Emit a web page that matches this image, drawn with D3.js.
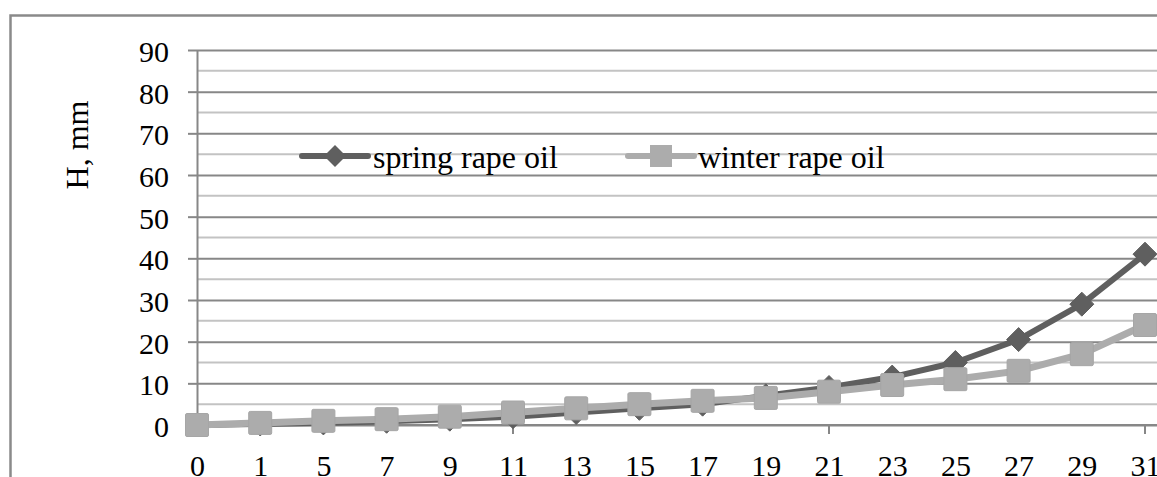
<!DOCTYPE html>
<html><head><meta charset="utf-8">
<script src="https://cdn.jsdelivr.net/npm/d3@7"></script>
<style>
html,body{margin:0;padding:0;background:#fff;}
svg{display:block;font-family:"Liberation Serif","Times New Roman",serif;}
</style></head>
<body>
<svg id="c" width="1157" height="477"></svg>
<script>
const categories = ["0","1","5","7","9","11","13","15","17","19","21","23","25","27","29","31"];
const springRapeOil = [0,0.25,0.5,0.9,1.4,2,3,4,5,7,9,11.5,15,20.5,29,41];
const winterRapeOil = [0,0.5,1,1.4,2,3,4,5,5.8,6.5,8,9.6,11,13,17,24];
const yTicks = [0,10,20,30,40,50,60,70,80,90];
const yMinor = [5,15,25,35,45,55,65,75,85];
const seriesNames = ["spring rape oil","winter rape oil"];

const W = 1157, H = 477;
const svg = d3.select("#c");
const x = d3.scalePoint().domain(categories).range([197, 1145]);
const y = d3.scaleLinear().domain([0, 90]).range([425, 50]);
const dark = "#5f5f5f", light = "#acacac", grid = "#878787", gridMinor = "#c3c3c3";
const FONT = "Liberation Serif, Times New Roman, serif";

// outer border
svg.append("rect").attr("x", 10.5).attr("y", 15.5).attr("width", W + 20).attr("height", H + 20)
  .attr("fill", "none").attr("stroke", "#8a8a8a").attr("stroke-width", 2.5);

// minor gridlines
svg.append("g").selectAll("line").data(yMinor).join("line")
  .attr("x1", 197).attr("x2", W).attr("y1", d => y(d)).attr("y2", d => y(d))
  .attr("stroke", gridMinor).attr("stroke-width", 2);

// major gridlines + y axis
const yAxis = d3.axisLeft(y).tickValues(yTicks).tickSize(9).tickSizeOuter(0).tickPadding(19);
const gy = svg.append("g").attr("transform", "translate(197,0)").call(yAxis);
gy.select(".domain").attr("stroke", grid).attr("stroke-width", 2);
gy.selectAll(".tick line").attr("stroke", grid).attr("stroke-width", 2);
gy.selectAll(".tick").append("line").attr("x1", 0).attr("x2", W - 197)
  .attr("stroke", grid).attr("stroke-width", 2);
gy.selectAll(".tick text").attr("font-size", 30).attr("fill", "#000")
  .attr("font-family", FONT).attr("dy", "0.38em");

// x axis
const xAxis = d3.axisBottom(x).tickSize(0).tickPadding(0);
const gx = svg.append("g").attr("transform", "translate(0,425)").call(xAxis);
gx.select(".domain").remove();
svg.append("line").attr("x1", 197).attr("x2", W).attr("y1", 425).attr("y2", 425)
  .attr("stroke", grid).attr("stroke-width", 2);
gx.selectAll(".tick text").attr("font-size", 30).attr("fill", "#000")
  .attr("font-family", FONT).attr("dy", 0).attr("y", 51);
svg.append("g").selectAll("line").data(categories.filter((c, i) => i % 5 === 0)).join("line")
  .attr("x1", d => x(d)).attr("x2", d => x(d)).attr("y1", 425).attr("y2", 434)
  .attr("stroke", grid).attr("stroke-width", 2);

// y label
svg.append("text").attr("transform", "translate(88,145) rotate(-90)")
  .attr("text-anchor", "middle").attr("font-size", 32).attr("fill", "#000").text("H, mm");

const line = d3.line().x((d, i) => x(categories[i])).y(d => y(d));

// spring series
svg.append("path").datum(springRapeOil).attr("d", line).attr("fill", "none")
  .attr("stroke", dark).attr("stroke-width", 6).attr("stroke-linejoin", "round");
const dsz = 12;
svg.append("g").selectAll("path").data(springRapeOil).join("path")
  .attr("d", (d, i) => {
    const cx = x(categories[i]), cy = y(d);
    return `M${cx},${cy - dsz}L${cx + dsz},${cy}L${cx},${cy + dsz}L${cx - dsz},${cy}Z`;
  }).attr("fill", dark).attr("stroke", dark).attr("stroke-width", 1);

// winter series
svg.append("path").datum(winterRapeOil).attr("d", line).attr("fill", "none")
  .attr("stroke", light).attr("stroke-width", 7).attr("stroke-linejoin", "round");
const ssz = 11.5;
svg.append("g").selectAll("rect").data(winterRapeOil).join("rect")
  .attr("x", (d, i) => x(categories[i]) - ssz).attr("y", d => y(d) - ssz)
  .attr("width", ssz * 2).attr("height", ssz * 2).attr("rx", 1.5)
  .attr("fill", light).attr("stroke", "#a6a6a6").attr("stroke-width", 1);

// legend
const lg = svg.append("g");
const ly = 156;
lg.append("line").attr("x1", 302).attr("x2", 368).attr("y1", ly).attr("y2", ly)
  .attr("stroke", dark).attr("stroke-width", 6).attr("stroke-linecap", "round");
lg.append("path").attr("d", `M335,${ly - 11}L346,${ly}L335,${ly + 11}L324,${ly}Z`).attr("fill", dark);
lg.append("text").attr("x", 373).attr("y", 168).attr("font-size", 32).attr("fill", "#000").text(seriesNames[0]);
lg.append("line").attr("x1", 628).attr("x2", 694).attr("y1", ly).attr("y2", ly)
  .attr("stroke", light).attr("stroke-width", 6).attr("stroke-linecap", "round");
lg.append("rect").attr("x", 650).attr("y", ly - 11).attr("width", 22).attr("height", 22).attr("fill", light);
lg.append("text").attr("x", 698).attr("y", 168).attr("font-size", 32).attr("fill", "#000").text(seriesNames[1]);
</script>
</body></html>
